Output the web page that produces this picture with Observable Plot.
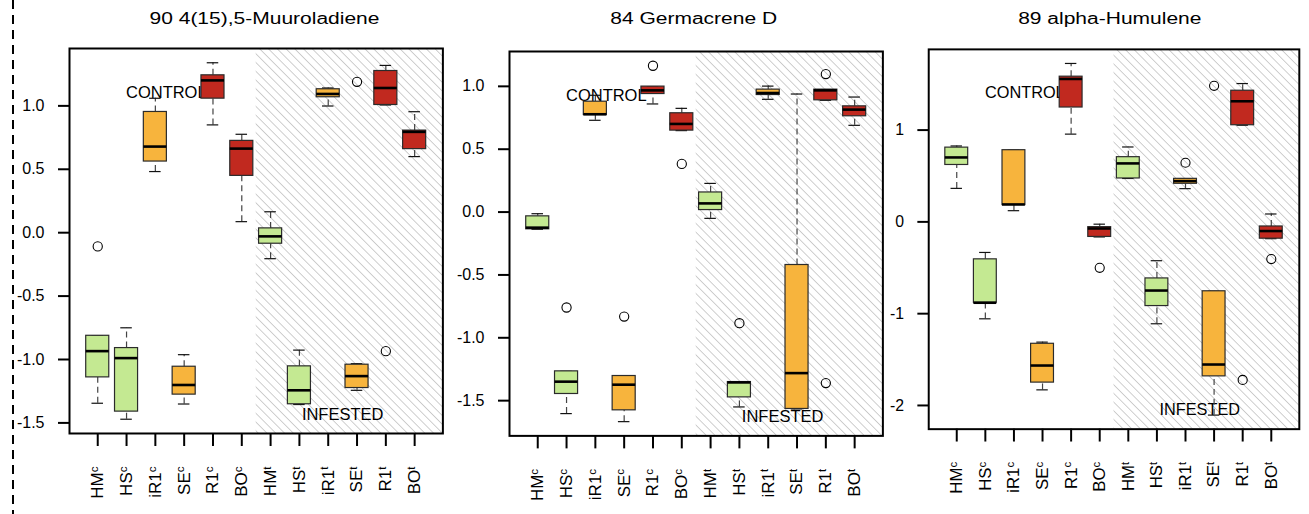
<!DOCTYPE html>
<html>
<head>
<meta charset="utf-8">
<script src="https://cdn.jsdelivr.net/npm/d3@7"></script>
<script src="https://cdn.jsdelivr.net/npm/@observablehq/plot@0.6"></script>
<style>
  body { margin: 0; background: #fff; font-family: "Liberation Sans", Arial, Helvetica, sans-serif; }
  #fig { position: relative; width: 1309px; height: 514px; overflow: hidden; background: #fff; }
  .panel { position: absolute; }
  .title { position: absolute; top: 7px; font-size: 21px; line-height: 21px; white-space: nowrap;
           color: #000; transform: translateX(-50%) scaleY(0.82); transform-origin: 50% 50%; }
  .edge-rule { position: absolute; left: 12px; top: 0; width: 2px; height: 514px;
               background: repeating-linear-gradient(to bottom, #000 0 9px, transparent 9px 15px); }
</style>
</head>
<body>
<div id="fig"><div class="edge-rule"></div></div>
<script>
// Sample groups on the x axis: plant label + superscript (c = control, t = infested)
const groupNames = ["HM", "HS", "iR1", "SE", "R1", "BO", "HM", "HS", "iR1", "SE", "R1", "BO"];
const groupSup   = ["c", "c", "c", "c", "c", "c", "t", "t", "t", "t", "t", "t"];
const groupFill  = ["#c4e992", "#c4e992", "#f7b43d", "#f7b43d", "#c1291f", "#c1291f",
                    "#c4e992", "#c4e992", "#f7b43d", "#f7b43d", "#c1291f", "#c1291f"];

// Box statistics per group: [lower whisker, Q1, median, Q3, upper whisker]
const muuroladiene = [
  [-1.345, -1.141, -0.934, -0.813, -0.813],
  [-1.471, -1.411, -0.989, -0.910, -0.750],
  [ 0.482,  0.561,  0.679,  0.952,  1.060],
  [-1.351, -1.277, -1.201, -1.057, -0.962],
  [ 0.850,  1.057,  1.201,  1.241,  1.340],
  [ 0.087,  0.448,  0.663,  0.724,  0.776],
  [-0.205, -0.087, -0.029,  0.034,  0.165],
  [-1.355, -1.353, -1.243, -1.054, -0.926],
  [ 0.999,  1.068,  1.094,  1.131,  1.141],
  [-1.243, -1.225, -1.131, -1.041, -1.033],
  [ 1.007,  1.007,  1.141,  1.275,  1.319],
  [ 0.600,  0.659,  0.795,  0.805,  0.954]
];
// Outliers: [group number (1-12), value]
const muuroladieneOut = [[1, -0.108], [10, 1.190], [11, -0.934]];

const germacrene = [
  [-0.137, -0.137, -0.124, -0.034, -0.013],
  [-1.603, -1.447, -1.349, -1.267, -1.267],
  [ 0.730,  0.772,  0.778,  0.878,  0.929],
  [-1.667, -1.577, -1.373, -1.304, -1.304],
  [ 0.860,  0.939,  0.968,  0.998,  0.998],
  [ 0.648,  0.648,  0.701,  0.786,  0.825],
  [-0.050,  0.016,  0.069,  0.156,  0.228],
  [-1.550, -1.474, -1.355, -1.352, -1.352],
  [ 0.897,  0.931,  0.947,  0.974,  1.002],
  [-1.566, -1.566, -1.281, -0.421,  0.939],
  [ 0.889,  0.889,  0.968,  0.974,  0.974],
  [ 0.690,  0.762,  0.815,  0.841,  0.915]
];
const germacreneOut = [[2, -0.759], [4, -0.831], [5, 1.164], [6, 0.383], [8, -0.884], [11, 1.098], [11, -1.360]];

const humulene = [
  [ 0.365,  0.620,  0.702,  0.809,  0.827],
  [-1.056, -0.881, -0.881, -0.408, -0.333],
  [ 0.122,  0.183,  0.190,  0.781,  0.781],
  [-1.830, -1.751, -1.565, -1.328, -1.310],
  [ 0.956,  1.246,  1.557,  1.582,  1.726],
  [-0.164, -0.164, -0.072, -0.057, -0.025],
  [ 0.473,  0.473,  0.637,  0.705,  0.816],
  [-1.110, -0.917, -0.748, -0.616, -0.423],
  [ 0.362,  0.415,  0.444,  0.469,  0.469],
  [-2.105, -1.683, -1.554, -0.756, -0.756],
  [ 1.053,  1.053,  1.314,  1.429,  1.507],
  [-0.183, -0.183, -0.100, -0.050,  0.086]
];
const humuleneOut = [[6, -0.501], [9, 0.644], [10, 1.482], [11, -1.722], [12, -0.405]];

// Axis tick values and panel titles
const ticksHalf = [-1.5, -1.0, -0.5, 0.0, 0.5, 1.0];
const ticksUnit = [-2, -1, 0, 1];
const titles = ["90 4(15),5-Muuroladiene", "84 Germacrene D", "89 alpha-Humulene"];
const zoneLabels = ["CONTROL", "INFESTED"];

const fig = document.getElementById("fig");
const M = {left: 70, right: 10, top: 10, bottom: 75};

function drawPanel(cfg) {
  const {stats, outliers, ticks, fmt, left, top, w, h, id, title, titleX} = cfg;
  const n = stats.length;
  const rows = stats.map(([lo, q1, med, q3, hi], k) => ({i: k + 1, lo, q1, med, q3, hi, fill: groupFill[k]}));
  const vals = stats.flat().concat(outliers.map(d => d[1]));
  const ymin = d3.min(vals), ymax = d3.max(vals), pad = 0.04 * (ymax - ymin);
  const yDom = [ymin - pad, ymax + pad];
  const xpad = 0.04 * n;
  const xDom = [0.5 - xpad, n + 0.5 + xpad];
  const span = yDom[1] - yDom[0];

  const svg = Plot.plot({
    width: w + M.left + M.right,
    height: h + M.top + M.bottom,
    marginLeft: M.left, marginRight: M.right, marginTop: M.top, marginBottom: M.bottom,
    style: {fontFamily: '"Liberation Sans", Arial, Helvetica, sans-serif', fontSize: "16px", background: "transparent", color: "#000", overflow: "visible"},
    x: {type: "linear", domain: xDom, axis: null},
    y: {type: "linear", domain: yDom, axis: null},
    color: {type: "identity"},
    marks: [
      // hatched "infested" half of the panel
      Plot.rect([0], {x1: () => n / 2 + 0.5, x2: () => xDom[1], y1: () => yDom[0], y2: () => yDom[1], fill: `url(#${id})`}),
      Plot.text([zoneLabels[0]], {x: () => 3.38, y: () => yDom[1] - 0.115 * span, text: d => d, fontSize: 16.5, fill: "#000"}),
      Plot.text([zoneLabels[1]], {x: () => 9.5, y: () => yDom[0] + 0.05 * span, text: d => d, fontSize: 16.5, fill: "#000"}),
      // whiskers
      Plot.ruleX(rows, {x: "i", y1: "q3", y2: "hi", stroke: "#444", strokeWidth: 1.2, strokeDasharray: "6,4"}),
      Plot.ruleX(rows, {x: "i", y1: "lo", y2: "q1", stroke: "#444", strokeWidth: 1.2, strokeDasharray: "6,4"}),
      // staples
      Plot.ruleY(rows, {y: "hi", x1: d => d.i - 0.2, x2: d => d.i + 0.2, stroke: "#111", strokeWidth: 1.2}),
      Plot.ruleY(rows, {y: "lo", x1: d => d.i - 0.2, x2: d => d.i + 0.2, stroke: "#111", strokeWidth: 1.2}),
      // boxes and medians
      Plot.rect(rows, {x1: d => d.i - 0.4, x2: d => d.i + 0.4, y1: "q1", y2: "q3", fill: "fill", stroke: "#2b2b2b", strokeWidth: 1.2}),
      Plot.ruleY(rows, {y: "med", x1: d => d.i - 0.4, x2: d => d.i + 0.4, stroke: "#000", strokeWidth: 2.6}),
      // outliers
      Plot.dot(outliers, {x: d => d[0], y: d => d[1], r: 4.6, stroke: "#000", fill: "none", strokeWidth: 1.1}),
      Plot.axisY(ticks, {anchor: "left", label: null, tickSize: 11, tickPadding: 14, tickFormat: fmt, strokeWidth: 2, fontSize: 16}),
      Plot.axisX(d3.range(1, n + 1), {anchor: "bottom", label: null, tickSize: 13, tickPadding: 20, tickRotate: -90,
        tickFormat: i => groupNames[i - 1] + groupSup[i - 1], strokeWidth: 2, fontSize: 17}),
      Plot.frame({stroke: "#000", strokeWidth: 2})
    ]
  });

  // diagonal hatch pattern
  const defs = d3.select(svg).insert("defs", ":first-child");
  const pat = defs.append("pattern").attr("id", id).attr("patternUnits", "userSpaceOnUse")
    .attr("width", 6.2).attr("height", 6.2).attr("patternTransform", "rotate(-45)");
  pat.append("line").attr("x1", 3.1).attr("y1", -1).attr("x2", 3.1).attr("y2", 7.2)
    .attr("stroke", "#c2c2c2").attr("stroke-width", 0.8);

  // superscript treatment letters on the x tick labels
  d3.select(svg).selectAll('g[aria-label="x-axis tick label"] text').each(function(d, k) {
    const t = d3.select(this);
    t.text(groupNames[k]);
    t.append("tspan").attr("dy", "-0.45em").attr("font-size", "0.68em").text(groupSup[k]);
  });

  const holder = document.createElement("div");
  holder.className = "panel";
  holder.style.left = (left - M.left) + "px";
  holder.style.top = (top - M.top) + "px";
  holder.appendChild(svg);
  fig.appendChild(holder);

  const tt = document.createElement("div");
  tt.className = "title";
  tt.style.left = titleX + "px";
  tt.textContent = title;
  fig.appendChild(tt);
}

const half = v => v.toFixed(1);
const unit = v => String(v);

drawPanel({stats: muuroladiene, outliers: muuroladieneOut, ticks: ticksHalf, fmt: half,
  left: 69.3, top: 48.3, w: 373.4, h: 385, id: "hatch1", title: titles[0], titleX: 264.5});
drawPanel({stats: germacrene, outliers: germacreneOut, ticks: ticksHalf, fmt: half,
  left: 509.3, top: 51.3, w: 373.4, h: 384.4, id: "hatch2", title: titles[1], titleX: 693.7});
drawPanel({stats: humulene, outliers: humuleneOut, ticks: ticksUnit, fmt: unit,
  left: 929.3, top: 49.3, w: 374.7, h: 384, id: "hatch3", title: titles[2], titleX: 1109.8});
</script>
</body>
</html>
